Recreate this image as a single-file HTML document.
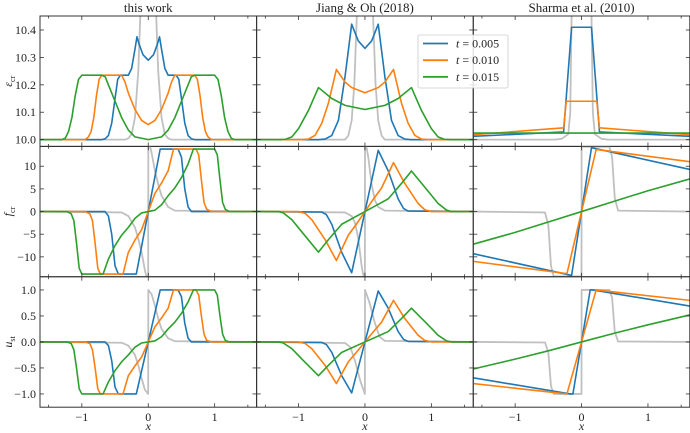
<!DOCTYPE html>
<html><head><meta charset="utf-8"><style>
html,body{margin:0;padding:0;background:#fff;}
svg{display:block;font-family:"Liberation Serif",serif;}
</style></head><body>
<svg id="chart" width="690" height="433" viewBox="0 0 690 433" xmlns="http://www.w3.org/2000/svg"></svg>
<script>
// ---- data (half-profiles, x >= 0; even rows mirrored, odd rows negated) ----
const columnTitles = ["this work", "Jiang & Oh (2018)", "Sharma et al. (2010)"];
const seriesLabels = ["t = 0.005", "t = 0.010", "t = 0.015"];
const xTickValues = [-1, 0, 1];
const xTickLabels = ["\u22121", "0", "1"];
const epsTicks = [10.0, 10.1, 10.2, 10.3, 10.4];
const epsTickLabels = ["10.0", "10.1", "10.2", "10.3", "10.4"];
const fTicks = [-10, -5, 0, 5, 10];
const fTickLabels = ["\u221210", "\u22125", "0", "5", "10"];
const uTicks = [-1, -0.5, 0, 0.5, 1];
const uTickLabels = ["\u22121.0", "\u22120.5", "0.0", "0.5", "1.0"];

// Row 1: epsilon_cr
const wE_gray_x = [0,0.1,0.12,0.15,0.2,0.25,0.3,0.35,1.63];
const wE_gray_y = [11,10.7,10.45,10.25,10.08,10.02,10.005,10,10];
const wE_blue_x = [0,0.08,0.14,0.17,0.2,0.25,0.3,0.42,0.46,0.5,0.55,0.6,0.65,0.7,1.63];
const wE_blue_y = [10.29,10.31,10.35,10.375,10.33,10.26,10.235,10.235,10.22,10.15,10.06,10.015,10.003,10,10];
const wE_orange_x = [0,0.1,0.2,0.3,0.35,0.4,0.7,0.74,0.78,0.82,0.86,0.9,0.95,1.63];
const wE_orange_y = [10.055,10.07,10.11,10.17,10.21,10.235,10.235,10.22,10.16,10.08,10.03,10.01,10,10];
const wE_green_x = [0,0.2,0.3,0.4,0.5,0.6,0.65,0.7,1.0,1.05,1.1,1.15,1.2,1.25,1.3,1.63];
const wE_green_y = [10.0,10.01,10.035,10.08,10.14,10.2,10.23,10.235,10.235,10.22,10.16,10.08,10.03,10.005,10,10];

const jE_gray_x = [0,0.1,0.13,0.16,0.2,0.25,0.3,1.63];
const jE_gray_y = [11,10.6,10.4,10.2,10.07,10.015,10,10];
const jE_blue_x = [0,0.1,0.15,0.2,0.3,0.4,0.5,0.6,0.7,1.63];
const jE_blue_y = [10.333,10.36,10.39,10.421,10.23,10.07,10.015,10.002,10,10];
const jE_orange_x = [0,0.2,0.3,0.43,0.55,0.65,0.75,0.85,0.95,1.63];
const jE_orange_y = [10.171,10.19,10.21,10.256,10.133,10.06,10.016,10.002,10,10];
const jE_green_x = [0,0.3,0.5,0.7,0.85,1.0,1.1,1.2,1.3,1.63];
const jE_green_y = [10.11,10.125,10.15,10.19,10.107,10.04,10.01,10.001,10,10];

const sE_gray_x = [0,0.15,0.17,0.2,0.3,0.4,1.63];
const sE_gray_y = [11,10.45,10.1,10.02,10.003,10,10];
const sE_blue_x = [0,0.15,0.27,1.63];
const sE_blue_y = [10.41,10.41,10.028,10.012];
const sE_orange_x = [0,0.23,0.27,1.63];
const sE_orange_y = [10.14,10.14,10.043,10.018];
const sE_green_x = [0,1.63];
const sE_green_y = [10.024,10.024];

// Row 2: f_cr
const wF_gray_x = [0,0.001,0.05,0.1,0.15,0.2,0.3,0.4,1.63];
const wF_gray_y = [0,16,13,9,6,3.5,1,0.2,0];
const wF_blue_x = [0,0.18,0.45,0.5,0.55,0.6,0.65,1.63];
const wF_blue_y = [0,13.8,13.8,12,5,1,0,0];
const wF_orange_x = [0,0.1,0.2,0.3,0.38,0.72,0.76,0.8,0.84,0.88,0.95,1.63];
const wF_orange_y = [0,4,6.3,9,13.8,13.8,12.5,7,2,0.5,0,0];
const wF_green_x = [0,0.1,0.2,0.3,0.4,0.5,0.6,0.68,1.0,1.04,1.08,1.12,1.16,1.22,1.63];
const wF_green_y = [0,0.3,1.5,3.5,5.2,7.5,10.5,13.8,13.8,12.5,7,2,0.5,0,0];

const jF_gray_x = [0,0.001,0.05,0.1,0.15,0.2,0.3,1.63];
const jF_gray_y = [0,16,12,6,2.5,1,0.2,0];
const jF_blue_x = [0,0.2,0.35,0.5,0.58,0.65,1.63];
const jF_blue_y = [0,13.5,9,2.8,0.7,0.1,0];
const jF_orange_x = [0,0.13,0.25,0.43,0.6,0.8,0.9,1.0,1.63];
const jF_orange_y = [0,2.8,5.2,10.8,6.2,1.8,0.4,0,0];
const jF_green_x = [0,0.35,0.55,0.7,0.95,1.1,1.23,1.3,1.63];
const jF_green_y = [0,2.8,6.2,8.95,4.5,1.8,0.3,0,0];

const sF_gray_x = [0,0.001,0.42,0.46,0.5,0.55,1.63];
const sF_gray_y = [0,14.3,14.3,12,3,0.2,0];
const sF_blue_x = [0,0.15,1.63];
const sF_blue_y = [0,14.1,9.3];
const sF_orange_x = [0,0.22,1.63];
const sF_orange_y = [0,13.7,11.0];
const sF_green_x = [0,0.5,1.0,1.63];
const sF_green_y = [0,2.3,4.6,7.2];

// Row 3: u_st
const wU_gray_x = [0,0.001,0.05,0.1,0.15,0.2,0.3,0.4,1.63];
const wU_gray_y = [0,1,0.92,0.7,0.45,0.25,0.07,0.015,0];
const wU_blue_x = [0,0.18,0.45,0.5,0.55,0.6,0.65,1.63];
const wU_blue_y = [0,1,1,0.87,0.36,0.07,0,0];
const wU_orange_x = [0,0.1,0.2,0.3,0.38,0.72,0.76,0.8,0.84,0.88,0.95,1.63];
const wU_orange_y = [0,0.29,0.46,0.65,1,1,0.9,0.5,0.15,0.03,0,0];
const wU_green_x = [0,0.1,0.2,0.3,0.4,0.5,0.6,0.68,1.0,1.04,1.08,1.12,1.16,1.22,1.63];
const wU_green_y = [0,0.02,0.1,0.25,0.38,0.55,0.77,1,1,0.9,0.5,0.15,0.03,0,0];

const jU_gray_x = [0,0.001,0.07,0.15,0.22,0.3,1.63];
const jU_gray_y = [0,1,0.75,0.36,0.1,0.02,0];
const jU_blue_x = [0,0.2,0.35,0.5,0.58,0.65,1.63];
const jU_blue_y = [0,0.98,0.65,0.2,0.05,0.01,0];
const jU_orange_x = [0,0.13,0.25,0.43,0.6,0.8,0.9,1.0,1.63];
const jU_orange_y = [0,0.2,0.38,0.8,0.45,0.13,0.03,0,0];
const jU_green_x = [0,0.35,0.55,0.7,0.95,1.1,1.23,1.3,1.63];
const jU_green_y = [0,0.2,0.45,0.65,0.33,0.13,0.02,0,0];

const sU_gray_x = [0,0.001,0.42,0.46,0.5,0.55,1.63];
const sU_gray_y = [0,1,1,0.85,0.2,0.01,0];
const sU_blue_x = [0,0.13,0.17,1.63];
const sU_blue_y = [0,1,1,0.69];
const sU_orange_x = [0,0.22,1.63];
const sU_orange_y = [0,1,0.8];
const sU_green_x = [0,0.5,1.0,1.63];
const sU_green_y = [0,0.17,0.33,0.52];

// ---- layout ----
const NS = "http://www.w3.org/2000/svg";
const svg = document.getElementById("chart");
const colL = [40, 256.7, 473.3], colW = 216.5;
const rowT = [16, 146.3, 276.7], rowH = 130.5;
const xMin = -1.63, xMax = 1.63;
const rows = [
  {key:"eps", min:9.975, max:10.451, ticks:epsTicks, labels:epsTickLabels, sym:"even", name:"\u03b5", sub:"cr"},
  {key:"f", min:-14.4, max:14.4, ticks:fTicks, labels:fTickLabels, sym:"odd", name:"f", sub:"cr"},
  {key:"u", min:-1.255, max:1.255, ticks:uTicks, labels:uTickLabels, sym:"odd", name:"u", sub:"st"}
];
const colors = {gray:"#c0c0c0", blue:"#1f77b4", orange:"#ff7f0e", green:"#2ca02c"};
const dataSets = [
  [ {gray:[wE_gray_x,wE_gray_y],blue:[wE_blue_x,wE_blue_y],orange:[wE_orange_x,wE_orange_y],green:[wE_green_x,wE_green_y]},
    {gray:[jE_gray_x,jE_gray_y],blue:[jE_blue_x,jE_blue_y],orange:[jE_orange_x,jE_orange_y],green:[jE_green_x,jE_green_y]},
    {gray:[sE_gray_x,sE_gray_y],blue:[sE_blue_x,sE_blue_y],orange:[sE_orange_x,sE_orange_y],green:[sE_green_x,sE_green_y]} ],
  [ {gray:[wF_gray_x,wF_gray_y],blue:[wF_blue_x,wF_blue_y],orange:[wF_orange_x,wF_orange_y],green:[wF_green_x,wF_green_y]},
    {gray:[jF_gray_x,jF_gray_y],blue:[jF_blue_x,jF_blue_y],orange:[jF_orange_x,jF_orange_y],green:[jF_green_x,jF_green_y]},
    {gray:[sF_gray_x,sF_gray_y],blue:[sF_blue_x,sF_blue_y],orange:[sF_orange_x,sF_orange_y],green:[sF_green_x,sF_green_y]} ],
  [ {gray:[wU_gray_x,wU_gray_y],blue:[wU_blue_x,wU_blue_y],orange:[wU_orange_x,wU_orange_y],green:[wU_green_x,wU_green_y]},
    {gray:[jU_gray_x,jU_gray_y],blue:[jU_blue_x,jU_blue_y],orange:[jU_orange_x,jU_orange_y],green:[jU_green_x,jU_green_y]},
    {gray:[sU_gray_x,sU_gray_y],blue:[sU_blue_x,sU_blue_y],orange:[sU_orange_x,sU_orange_y],green:[sU_green_x,sU_green_y]} ]
];

function mk(tag, attrs, parent){
  const e = document.createElementNS(NS, tag);
  for (const k in attrs) e.setAttribute(k, attrs[k]);
  (parent||svg).appendChild(e);
  return e;
}
function full(xs, ys, sym){
  const X=[], Y=[];
  for (let i=xs.length-1;i>=0;i--){ if (xs[i]===0) continue; X.push(-xs[i]); Y.push(sym==="odd"?-ys[i]:ys[i]); }
  for (let i=0;i<xs.length;i++){ X.push(xs[i]); Y.push(ys[i]); }
  return [X,Y];
}

const defs = mk("defs", {});
for (let r=0;r<3;r++){
  const R = rows[r];
  for (let c=0;c<3;c++){
    const L = colL[c], T = rowT[r];
    const sx = v => L + (v - xMin)/(xMax - xMin)*colW;
    const sy = v => T + rowH - (v - R.min)/(R.max - R.min)*rowH;
    const cid = "clip"+r+c;
    const cp = mk("clipPath", {id:cid}, defs);
    mk("rect", {x:L, y:T, width:colW, height:rowH}, cp);
    const g = mk("g", {"clip-path":"url(#"+cid+")"});
    
    
    const ds = dataSets[r][c];
    ["gray","blue","orange","green"].forEach(s=>{
      const [X,Y] = full(ds[s][0], ds[s][1], R.sym);
      const pts = X.map((x,i)=>sx(x).toFixed(2)+","+sy(Y[i]).toFixed(2)).join(" ");
      const pl = mk("polyline", {points:pts, fill:"none", stroke:colors[s], "stroke-width": s==="gray"?1.8:1.6, "stroke-linejoin":"round"}, g);
      
      
    });
    // frame
    const fr = mk("rect", {x:L, y:T, width:colW, height:rowH, fill:"none", stroke:"#333", "stroke-width":1});
    
    
    // x ticks
    const xt = xTickValues.map(v=>[v,4]).concat([[-1.5,2.5],[1.5,2.5]]);
    xt.forEach(([v,len])=>{
      const x = sx(v);
      mk("line", {x1:x, x2:x, y1:T+rowH, y2:T+rowH-len, stroke:"#333", "stroke-width":0.8});
      mk("line", {x1:x, x2:x, y1:T, y2:T+len, stroke:"#333", "stroke-width":0.8});
    });
    R.ticks.forEach((v,i)=>{
      const y = sy(v);
      mk("line", {x1:L, x2:L+4, y1:y, y2:y, stroke:"#333", "stroke-width":0.8});
      mk("line", {x1:L+colW, x2:L+colW-4, y1:y, y2:y, stroke:"#333", "stroke-width":0.8});
      if (c===0){
        const t = mk("text", {x:L-4, y:y+4, "text-anchor":"end", "font-size":12, fill:"#222"});
        t.textContent = R.labels[i];
        
        
      }
    });
    if (r===2){
      xTickValues.forEach((v,i)=>{
        const t = mk("text", {x:sx(v), y:T+rowH+14, "text-anchor":"middle", "font-size":12, fill:"#222"});
        t.textContent = xTickLabels[i];
        
        
      });
      const xl = mk("text", {x:L+colW/2, y:430, "text-anchor":"middle", "font-size":12, "font-style":"italic", fill:"#222"});
      xl.textContent = "x";
      
      
    }
    if (r===0){
      const tt = mk("text", {x:L+colW/2, y:12, "text-anchor":"middle", "font-size":13, fill:"#222"});
      tt.textContent = columnTitles[c];
      
      
    }
  }
  // y label
  const cy = rowT[r] + rowH/2;
  const yl = mk("text", {transform:"translate(12,"+cy+") rotate(-90)", "text-anchor":"middle", "font-size":12, fill:"#222"});
  
  
  const t1 = mk("tspan", {"font-style":"italic"}, yl); t1.textContent = R.name;
  const t2 = mk("tspan", {"font-size":8, dy:3}, yl); t2.textContent = R.sub;
}

// legend
const lg = mk("g", {});


mk("rect", {x:418, y:35, width:90, height:53, rx:2, fill:"#fff", "fill-opacity":0.85, stroke:"#ccc", "stroke-width":0.8}, lg);
["blue","orange","green"].forEach((s,i)=>{
  const y = 43.5 + i*16.7;
  const ln = mk("line", {x1:423, x2:448, y1:y, y2:y, stroke:colors[s], "stroke-width":1.8}, lg);
  
  
  const t = mk("text", {x:456, y:y+4, "font-size":12, fill:"#222"}, lg);
  
  
  const parts = seriesLabels[i].split(" = ");
  const a = mk("tspan", {"font-style":"italic"}, t); a.textContent = parts[0];
  const b = mk("tspan", {}, t); b.textContent = " = " + parts[1];
});
</script>
</body></html>
